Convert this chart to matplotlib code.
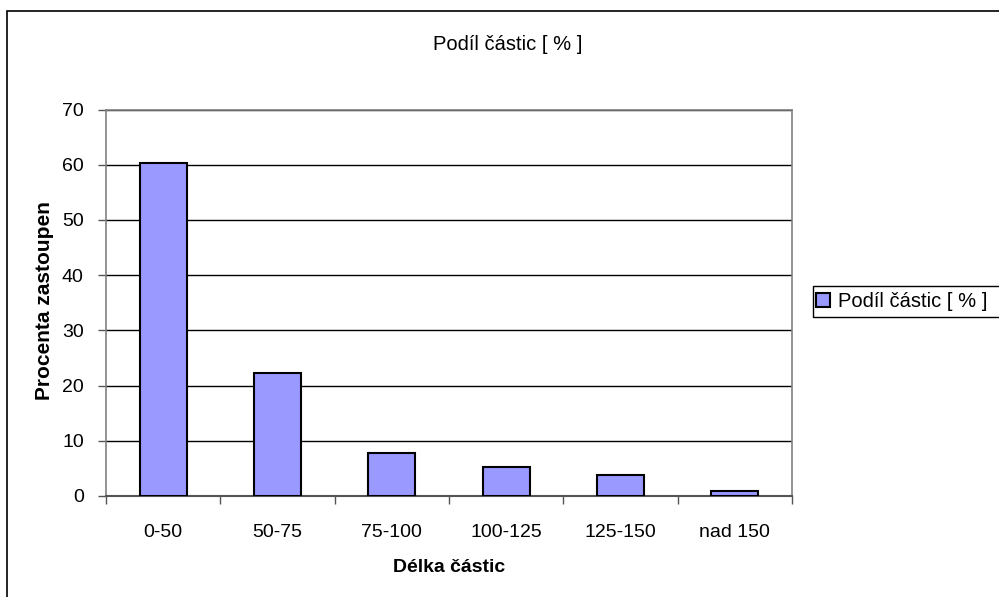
import matplotlib
matplotlib.use("Agg")
from matplotlib import pyplot as plt
from matplotlib.patches import Rectangle

# data
categories = ['0-50', '50-75', '75-100', '100-125', '125-150', 'nad 150']
podil = [60.3, 22.3, 7.7, 5.3, 3.8, 0.9]
y_ticks = [0, 10, 20, 30, 40, 50, 60, 70]

plt.rcParams['font.family'] = ['Liberation Sans', 'DejaVu Sans']
plt.rcParams['font.size'] = 14

W, H = 999, 597
fig = plt.figure(figsize=(W / 100, H / 100), dpi=100)

# outer chart frame (right and bottom edges fall outside the picture)
fig.patches.append(Rectangle((7 / W, -0.1), 1.2, 1.1 - 11 / H, transform=fig.transFigure,
                             fill=False, edgecolor='black', linewidth=1.2))

ax = fig.add_axes([106 / W, 1 - 496 / H, (792 - 106) / W, (496 - 109.5) / H])
x = list(range(len(categories)))
ax.bar(x, podil, width=0.41, color='#9999FF', edgecolor='black', linewidth=1.5,
       label='Podíl částic [ % ]', zorder=3)

ax.set_xlim(-0.5, len(categories) - 0.5)
ax.set_ylim(0, 70)
ax.set_yticks(y_ticks)
ax.yaxis.grid(True, color='black', linewidth=1, zorder=0)
ax.set_axisbelow(True)

ax.set_xticks(x)
ax.set_xticklabels(categories)
ax.set_xticks([i - 0.5 for i in range(len(categories) + 1)], minor=True)
ax.tick_params(axis='x', which='major', length=0, pad=20)
ax.tick_params(axis='x', which='minor', length=6, width=1, color='#555555')
ax.tick_params(axis='y', length=6, width=1, color='#555555', pad=10)

for s in ['top', 'right', 'left']:
    ax.spines[s].set_color('#808080')
    ax.spines[s].set_linewidth(1.2)
ax.spines['bottom'].set_color('#555555')
ax.spines['bottom'].set_linewidth(1.5)

fig.text(508 / W, 1 - 45 / H, 'Podíl částic [ % ]', ha='center', va='center',
         fontsize=14.5)
fig.text(449 / W, 1 - 567 / H, 'Délka částic', ha='center', va='center',
         fontweight='bold')

# axis title is cut off at the top in the reference
ylab = fig.text(45 / W, 1 - 400.5 / H, 'Procenta zastoupení', rotation=90,
                ha='center', va='bottom', fontweight='bold', fontsize=15)
clip = Rectangle((0, 0), 1, 1 - 200.5 / H, transform=fig.transFigure)
ylab.set_clip_path(clip)
ylab.set_clip_on(True)

# legend, its frame runs past the right edge of the picture
fig.patches.append(Rectangle((813 / W, 1 - 317 / H), 0.3, 31 / H, transform=fig.transFigure,
                             fill=False, edgecolor='black', linewidth=1))
ax.legend(loc='center left', bbox_to_anchor=(816 / W, 1 - 301.5 / H),
          bbox_transform=fig.transFigure, borderaxespad=0, frameon=False,
          handlelength=0.7, handleheight=0.7, handletextpad=0.4, borderpad=0.0,
          fontsize=14.5)

fig.savefig('out.png', dpi=100)
